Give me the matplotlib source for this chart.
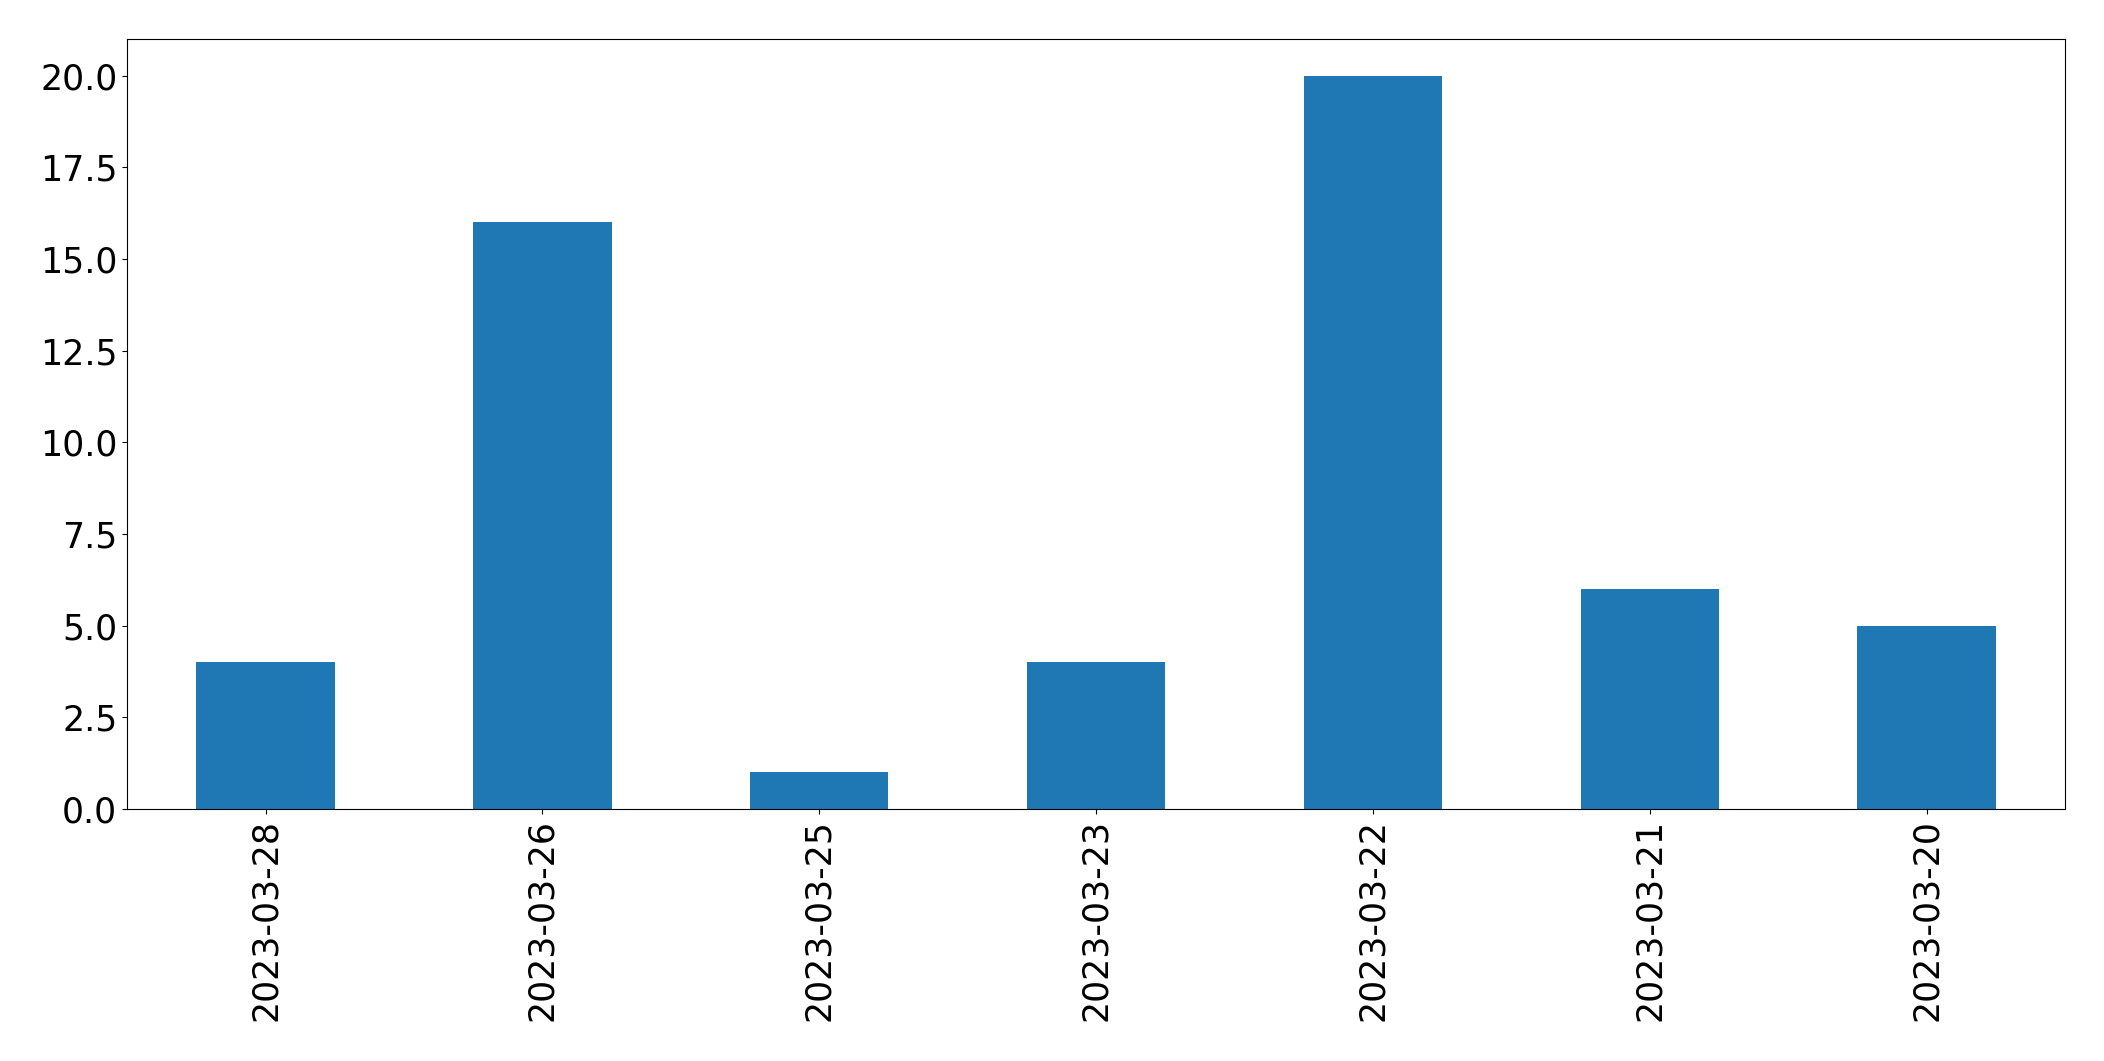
from matplotlib import pyplot as plt
import pandas as pd

dates = ['2023-03-28', '2023-03-26', '2023-03-25', '2023-03-23',
         '2023-03-22', '2023-03-21', '2023-03-20']
counts = [4, 16, 1, 4, 20, 6, 5]

s = pd.Series(counts, index=dates)

fig = plt.figure(figsize=(21.04, 10.61), dpi=100)
ax = fig.add_axes([0.0604, 0.2375, 0.9815 - 0.0604, 0.9632 - 0.2375])
s.plot(kind='bar', ax=ax, color='#1f77b4')
ax.tick_params(axis='both', labelsize=25)
plt.xticks(rotation=90)
plt.savefig('out.png', dpi=100)
